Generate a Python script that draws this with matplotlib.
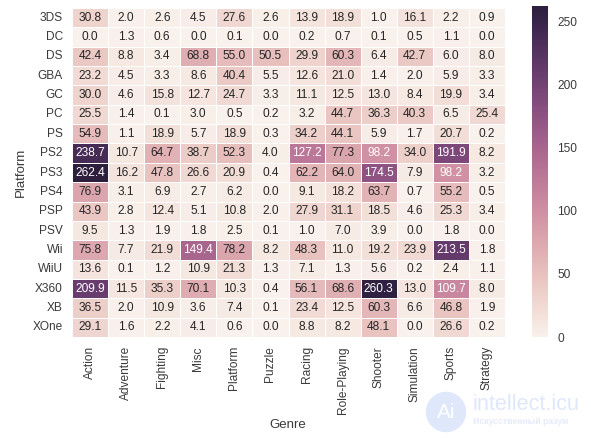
import matplotlib
matplotlib.use('Agg')
import matplotlib.pyplot as plt
from matplotlib.patches import Ellipse
import pandas as pd
import numpy as np
import seaborn as sns

genres = ['Action', 'Adventure', 'Fighting', 'Misc', 'Platform', 'Puzzle', 'Racing',
          'Role-Playing', 'Shooter', 'Simulation', 'Sports', 'Strategy']
platforms = ['3DS', 'DC', 'DS', 'GBA', 'GC', 'PC', 'PS', 'PS2', 'PS3', 'PS4', 'PSP',
             'PSV', 'Wii', 'WiiU', 'X360', 'XB', 'XOne']

sales = [
    [30.8, 2.0, 2.6, 4.5, 27.6, 2.6, 13.9, 18.9, 1.0, 16.1, 2.2, 0.9],
    [0.0, 1.3, 0.6, 0.0, 0.1, 0.0, 0.2, 0.7, 0.1, 0.5, 1.1, 0.0],
    [42.4, 8.8, 3.4, 68.8, 55.0, 50.5, 29.9, 60.3, 6.4, 42.7, 6.0, 8.0],
    [23.2, 4.5, 3.3, 8.6, 40.4, 5.5, 12.6, 21.0, 1.4, 2.0, 5.9, 3.3],
    [30.0, 4.6, 15.8, 12.7, 24.7, 3.3, 11.1, 12.5, 13.0, 8.4, 19.9, 3.4],
    [25.5, 1.4, 0.1, 3.0, 0.5, 0.2, 3.2, 44.7, 36.3, 40.3, 6.5, 25.4],
    [54.9, 1.1, 18.9, 5.7, 18.9, 0.3, 34.2, 44.1, 5.9, 1.7, 20.7, 0.2],
    [238.7, 10.7, 64.7, 38.7, 52.3, 4.0, 127.2, 77.3, 98.2, 34.0, 191.9, 8.2],
    [262.4, 16.2, 47.8, 26.6, 20.9, 0.4, 62.2, 64.0, 174.5, 7.9, 98.2, 3.2],
    [76.9, 3.1, 6.9, 2.7, 6.2, 0.0, 9.1, 18.2, 63.7, 0.7, 55.2, 0.5],
    [43.9, 2.8, 12.4, 5.1, 10.8, 2.0, 27.9, 31.1, 18.5, 4.6, 25.3, 3.4],
    [9.5, 1.3, 1.9, 1.8, 2.5, 0.1, 1.0, 7.0, 3.9, 0.0, 1.8, 0.0],
    [75.8, 7.7, 21.9, 149.4, 78.2, 8.2, 48.3, 11.0, 19.2, 23.9, 213.5, 1.8],
    [13.6, 0.1, 1.2, 10.9, 21.3, 1.3, 7.1, 1.3, 5.6, 0.2, 2.4, 1.1],
    [209.9, 11.5, 35.3, 70.1, 10.3, 0.4, 56.1, 68.6, 260.3, 13.0, 109.7, 8.0],
    [36.5, 2.0, 10.9, 3.6, 7.4, 0.1, 23.4, 12.5, 60.3, 6.6, 46.8, 1.9],
    [29.1, 1.6, 2.2, 4.1, 0.6, 0.0, 8.8, 8.2, 48.1, 0.0, 26.6, 0.2],
]

sns.set_style('darkgrid')
plt.rcParams['font.family'] = ['Liberation Sans', 'DejaVu Sans']

W, H = 591, 438
text_color = '#3a3a3a'
fig = plt.figure(figsize=(W / 100, H / 100), dpi=100)
ax = fig.add_axes([72 / W, 1 - 337 / H, 433 / W, 329 / H])
cax = fig.add_axes([532 / W, 1 - 337 / H, 16 / W, 331 / H])

df = pd.DataFrame(sales, index=platforms, columns=genres)
df.index.name = 'Platform'
df.columns.name = 'Genre'

cmap = sns.cubehelix_palette(light=.95, as_cmap=True)
sns.heatmap(df, ax=ax, cbar_ax=cax, cmap=cmap, annot=True, fmt='.1f',
            linewidths=.5, annot_kws={'size': 8.6})

ax.tick_params(axis='x', labelsize=8.6, rotation=90, length=0, pad=6.5, colors=text_color)
ax.tick_params(axis='y', labelsize=8.6, rotation=0, length=0, pad=6.5, colors=text_color)
ax.set_xlabel('Genre', fontsize=9.5, color=text_color)
ax.xaxis.set_label_coords(288 / W, 1 - 425 / H, transform=fig.transFigure)
ax.xaxis.label.set_verticalalignment('center')
ax.set_ylabel('Platform', fontsize=9.5, color=text_color)
ax.yaxis.set_label_coords(21 / W, 1 - 172 / H, transform=fig.transFigure)
ax.yaxis.label.set_verticalalignment('center')
cax.tick_params(labelsize=8.6, length=0, pad=6.5, colors=text_color)

# pale site mark in the lower right corner
fig.add_artist(Ellipse((446 / W, 1 - 412 / H), 39 / W, 39 / H, color='#dfe7fb',
                       transform=fig.transFigure, zorder=-1))
fig.text(446 / W, 1 - 412 / H, 'Ai', color='white', fontsize=15, ha='center', va='center', zorder=-1)
fig.text(473 / W, 1 - 404 / H, 'intellect.icu', color='#dfe7fb', fontsize=15.6, va='center')
fig.text(473 / W, 1 - 422 / H, 'Искусственный разум', color='#e6ebfa', fontsize=6.2, fontweight='bold', va='center')

fig.savefig('out.png', dpi=100)
